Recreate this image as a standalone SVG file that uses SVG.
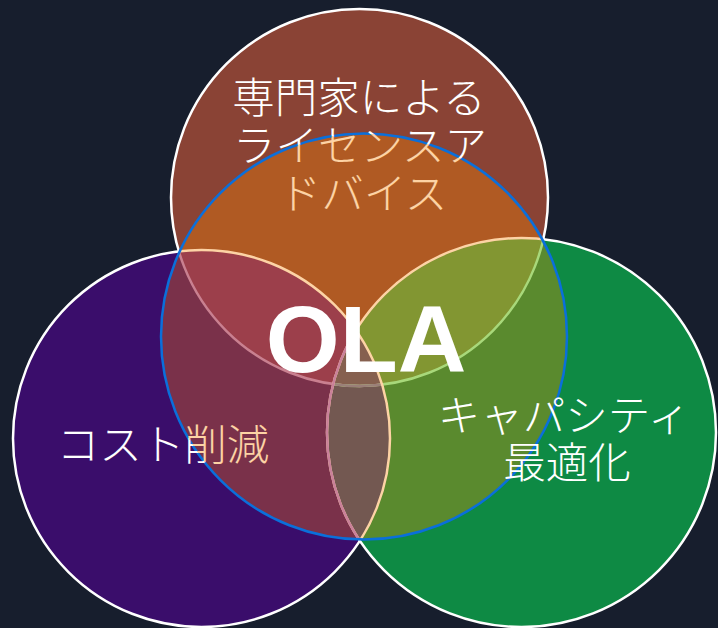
<svg xmlns="http://www.w3.org/2000/svg" width="718" height="628" viewBox="0 0 718 628">
<style>
.lbl{font-family:"Noto Sans CJK JP","Noto Sans",sans-serif;font-size:42.5px;font-weight:300;text-anchor:middle}
.w{fill:#ffffff}
.g{fill:url(#olaText)}
.outer{stroke:#ffffff;stroke-width:2.5}
.inner{fill:none;stroke-width:2.5}
.ola{font-family:"Liberation Sans",Arial,sans-serif;font-weight:bold;font-size:95px;fill:#ffffff;text-anchor:middle}
</style>
<defs>
<radialGradient id="olaText" gradientUnits="userSpaceOnUse" cx="364" cy="336.5" r="203" fx="364" fy="336.5">
<stop offset="0" stop-color="#fdd3a5"/>
<stop offset="0.998" stop-color="#fdd3a5"/>
<stop offset="1" stop-color="#ffffff"/>
</radialGradient>
<circle id="cT" cx="359.5" cy="197.5" r="188.5"/>
<circle id="cL" cx="201.5" cy="438.5" r="188.5"/>
<circle id="cR" cx="521.5" cy="432.5" r="194.5"/>
<clipPath id="clipOla"><circle cx="364" cy="336.5" r="203"/></clipPath>
<clipPath id="clipT"><use href="#cT"/></clipPath>
<clipPath id="clipL"><use href="#cL"/></clipPath>
<clipPath id="clipR"><use href="#cR"/></clipPath>
</defs>
<rect x="0" y="0" width="718" height="628" fill="#171e2d"/>
<g id="node-top"><use href="#cT" class="outer" fill="#8a4335"/></g>
<g id="node-left"><use href="#cL" class="outer" fill="#3a0d6b"/></g>
<g id="node-right"><use href="#cR" class="outer" fill="#0e8a44"/></g>
<g id="node-ola">
<g clip-path="url(#clipOla)">
<use href="#cT" fill="#b05a23"/>
<use href="#cL" fill="#7a314a"/>
<use href="#cR" fill="#5a8a2e"/>
<g clip-path="url(#clipT)"><use href="#cL" fill="#9c3f4b"/></g>
<g clip-path="url(#clipT)"><use href="#cR" fill="#829632"/></g>
<g clip-path="url(#clipL)"><use href="#cR" fill="#735851"/></g>
<g clip-path="url(#clipT)"><g clip-path="url(#clipL)"><use href="#cR" fill="#86604f"/></g></g>
<g clip-path="url(#clipL)"><use href="#cT" class="inner" stroke="#c98090"/></g>
<g clip-path="url(#clipR)"><use href="#cT" class="inner" stroke="#a8d87a"/></g>
<g clip-path="url(#clipL)"><g clip-path="url(#clipR)"><use href="#cT" class="inner" stroke="#9a7f78"/></g></g>
<use href="#cR" class="inner" stroke="#fdd3a5"/>
<g clip-path="url(#clipL)"><use href="#cR" class="inner" stroke="#c9809a"/></g>
<use href="#cL" class="inner" stroke="#fdd3a5"/>
</g>
<circle cx="364" cy="336.5" r="203" fill="none" stroke="#0a6fdb" stroke-width="2.5"/>
</g>
<g id="label-top">
<text class="lbl g" x="359" y="113">専門家による</text>
<text class="lbl g" x="360" y="161">ライセンスア</text>
<text class="lbl g" x="363" y="209">ドバイス</text>
</g>
<g id="label-left">
<text class="lbl g" x="163" y="460">コスト削減</text>
</g>
<g id="label-right">
<text class="lbl w" x="564" y="431">キャパシティ</text>
<text class="lbl w" x="567" y="478">最適化</text>
</g>
<g id="label-ola"><text class="ola" x="366" y="372">OLA</text></g>
<g id="connectors"></g>
</svg>
